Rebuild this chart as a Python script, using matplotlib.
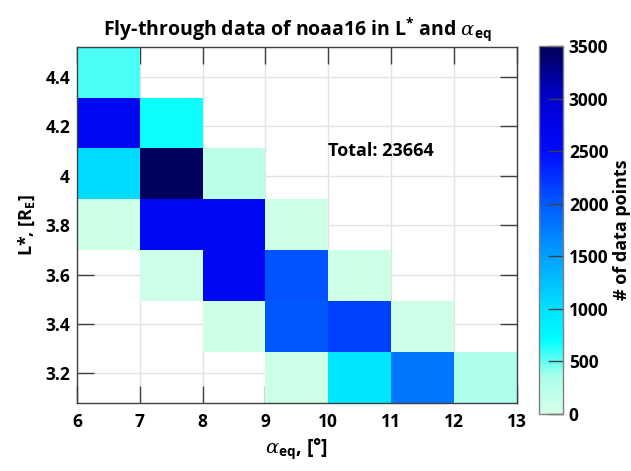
import numpy as np
import matplotlib
matplotlib.use("Agg")
import matplotlib.pyplot as plt
from matplotlib.colors import LinearSegmentedColormap

# ---- data ----
alpha_edges = [6, 7, 8, 9, 10, 11, 12, 13]
L_min, L_max = 3.08, 4.523
L_edges = list(np.linspace(L_min, L_max, 8))
nan = np.nan
# rows from bottom (L*~3.2) to top (L*~4.4); columns alpha 6..12
row_32 = [nan, nan, nan, 90, 950, 1800, 330]
row_34 = [nan, nan, 80, 2000, 2150, 90, nan]
row_36 = [nan, 100, 2650, 2050, 80, nan, nan]
row_38 = [70, 2650, 2650, 80, nan, nan, nan]
row_40 = [1050, 3450, 230, nan, nan, nan, nan]
row_42 = [2650, 680, nan, nan, nan, nan, nan]
row_44 = [560, nan, nan, nan, nan, nan, nan]
counts = np.array([row_32, row_34, row_36, row_38, row_40, row_42, row_44])
total = 23664
x_ticks = [6, 7, 8, 9, 10, 11, 12, 13]
y_ticks = [3.2, 3.4, 3.6, 3.8, 4.0, 4.2, 4.4]
y_ticklabels = ["3.2", "3.4", "3.6", "3.8", "4", "4.2", "4.4"]
cb_ticks = [0, 500, 1000, 1500, 2000, 2500, 3000, 3500]

plt.rcParams['font.family'] = ['Open Sans', 'DejaVu Sans']
plt.rcParams['font.weight'] = 'bold'
plt.rcParams['mathtext.fontset'] = 'custom'
plt.rcParams['mathtext.rm'] = 'Open Sans:bold'
plt.rcParams['mathtext.bf'] = 'Open Sans:bold'
plt.rcParams['mathtext.it'] = 'DejaVu Serif:italic:weight=normal'

nodes = [(0.0, (215, 255, 230)), (0.1, (170, 255, 235)), (0.2, (0, 255, 255)),
         (0.286, (0, 225, 255)), (0.4286, (0, 160, 255)), (0.5714, (0, 90, 255)),
         (0.7143, (0, 10, 255)), (0.857, (0, 0, 210)), (1.0, (0, 0, 85))]
cmap = LinearSegmentedColormap.from_list(
    "fly", [(p, tuple(c / 255 for c in col)) for p, col in nodes])

fig = plt.figure(figsize=(6.31, 4.71), dpi=100)
ax = fig.add_axes([0.122, 0.1444, 0.697, 0.7565])
cax = fig.add_axes([0.8547, 0.121, 0.038, 0.781])

data = np.ma.masked_invalid(counts)
mesh = ax.pcolormesh(alpha_edges, L_edges, data, cmap=cmap, vmin=0, vmax=3500,
                     zorder=1)
ax.set_axisbelow(True)
ax.grid(True, color='#e3e3e3', linewidth=1.0)
ax.set_xlim(6, 13)
ax.set_ylim(L_min, L_max)
ax.set_xticks(x_ticks)
ax.set_yticks(y_ticks)
ax.set_yticklabels(y_ticklabels)
ax.tick_params(direction='in', length=12, width=1.0, color='#404040',
               top=True, right=True, labelsize=12.5)
ax.tick_params(axis='y', pad=5)
ax.tick_params(axis='x', pad=7)
for lab in ax.get_xticklabels() + ax.get_yticklabels():
    lab.set_fontweight('bold')
for sp in ax.spines.values():
    sp.set_color('#404040')
    sp.set_linewidth(1.0)
    sp.set_zorder(3)

ax.set_title(r"Fly-through data of noaa16 in L$^{\mathbf{*}}$ and $\alpha_{\mathbf{eq}}$",
             fontsize=14, fontweight='bold', pad=9)
ax.set_xlabel(r"$\alpha_{\mathbf{eq}}$, [°]", fontsize=14, fontweight='bold', labelpad=4)
ax.set_ylabel(r"L*, [R$_{\mathbf{E}}$]", fontsize=13, fontweight='bold', labelpad=6)
ax.text(10.0, 4.1, f"Total: {total}", fontsize=13, fontweight='bold',
        ha='left', va='center')

cb = fig.colorbar(mesh, cax=cax, ticks=cb_ticks)
cb.outline.set_edgecolor('#808080')
cb.outline.set_linewidth(1.0)
cax.tick_params(direction='in', length=11, width=1.0, color='#404040',
                labelsize=12.5, pad=4)
for lab in cax.get_yticklabels():
    lab.set_fontweight('bold')
cb.set_label("# of data points", fontsize=13, fontweight='bold', labelpad=3)

fig.savefig("out.png", dpi=100)
